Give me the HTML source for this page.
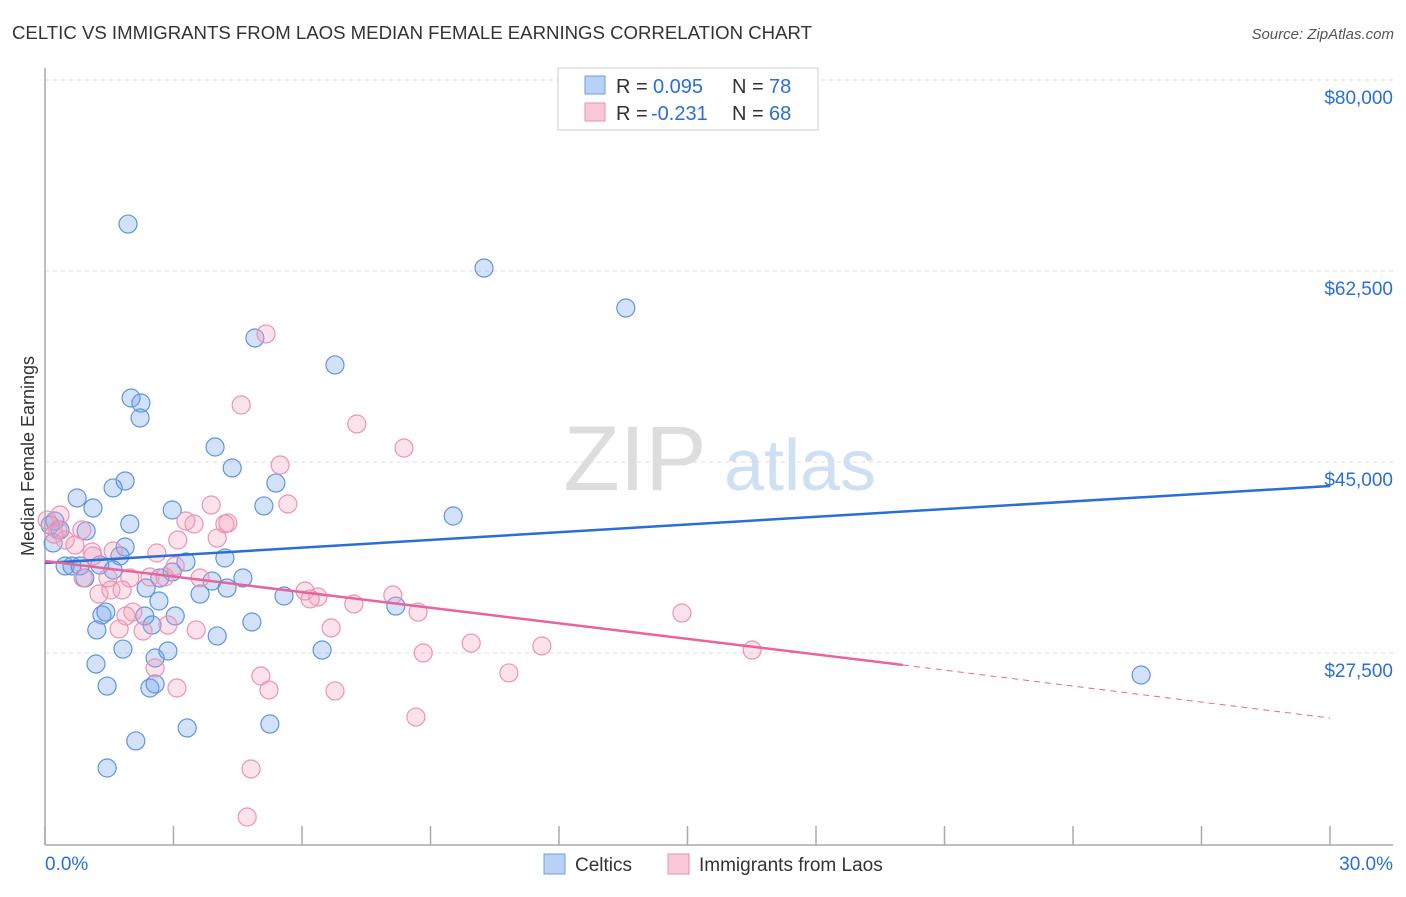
<!DOCTYPE html>
<html><head><meta charset="utf-8"><style>
body{margin:0;background:#fff;font-family:"Liberation Sans",sans-serif;}
svg text{font-family:"Liberation Sans",sans-serif;}
</style></head><body>
<svg id="chart" width="1406" height="892" xmlns="http://www.w3.org/2000/svg">
<text x="12" y="39" font-size="18" fill="#333" textLength="800" lengthAdjust="spacingAndGlyphs">CELTIC VS IMMIGRANTS FROM LAOS MEDIAN FEMALE EARNINGS CORRELATION CHART</text>
<text x="1394" y="39" font-size="15" fill="#555" text-anchor="end" font-style="italic">Source: ZipAtlas.com</text>
<text x="34" y="456" font-size="18" fill="#333" text-anchor="middle" transform="rotate(-90 34 456)">Median Female Earnings</text>
<g><text x="635" y="490" font-size="92" fill="#ddd" font-family="Liberation Serif" text-anchor="middle">ZIP</text><text x="800" y="490" font-size="72" fill="#cfe0f5" text-anchor="middle">atlas</text></g>
<g id="grid"></g><g id="axes"></g><g id="marks"></g><g id="trends"></g>
<g>
<rect x="558" y="68" width="260" height="62" fill="#fff" stroke="#ccc"/>
<rect x="585" y="76" width="20" height="18" fill="#b9d1f5" stroke="#6e9de0"/>
<text x="616" y="93" font-size="20" fill="#333">R =</text>
<text x="653" y="93" font-size="20" fill="#2a6fd6">0.095</text>
<text x="732" y="93" font-size="20" fill="#333">N =</text>
<text x="769" y="93" font-size="20" fill="#2a6fd6">78</text>
<rect x="585" y="103" width="20" height="18" fill="#f9c9d8" stroke="#e88fb0"/>
<text x="616" y="120" font-size="20" fill="#333">R =</text>
<text x="651" y="120" font-size="20" fill="#2a6fd6">-0.231</text>
<text x="732" y="120" font-size="20" fill="#333">N =</text>
<text x="769" y="120" font-size="20" fill="#2a6fd6">68</text>
</g>
<g>
<rect x="544" y="854" width="21" height="20" fill="#b9d1f5" stroke="#6e9de0"/>
<text x="575" y="871" font-size="19" fill="#333">Celtics</text>
<rect x="668" y="854" width="21" height="20" fill="#f9c9d8" stroke="#e88fb0"/>
<text x="699" y="871" font-size="19" fill="#333">Immigrants from Laos</text>
</g>
</svg>
<script>
const blueX=[1.94,10.25,13.56,4.90,6.77,2.01,2.24,2.22,3.97,4.37,1.87,1.59,5.39,0.75,5.11,1.12,2.97,9.53,1.98,0.96,0.23,0.12,0.35,0.19,1.87,1.75,3.29,4.20,0.47,0.63,0.82,1.28,1.59,0.93,4.62,3.90,2.97,2.68,2.36,4.25,3.62,5.58,2.66,8.19,1.33,1.42,2.33,3.04,4.83,2.50,1.21,4.02,1.82,2.87,6.47,2.57,1.19,25.59,1.45,2.45,2.57,5.25,3.32,2.12,1.45];
const blueY=[68.36,64.33,60.67,57.92,55.45,52.42,51.96,50.59,47.93,46.01,44.82,44.18,44.63,43.26,42.53,42.34,42.16,41.61,40.88,40.24,41.15,40.79,40.33,39.14,38.77,37.95,37.40,37.76,37.03,37.03,37.03,37.12,36.66,35.93,35.93,35.65,36.48,35.93,35.01,35.01,34.46,34.28,33.82,33.36,32.54,32.81,32.45,32.45,31.90,31.62,31.17,30.62,29.42,29.24,29.33,28.60,28.05,27.04,26.03,25.85,26.22,22.55,22.19,21.00,18.52];
const pinkX=[5.16,4.58,7.28,8.38,5.49,5.67,3.88,3.29,3.48,4.20,4.27,4.02,3.10,0.35,0.05,0.30,0.47,0.70,1.10,1.59,2.61,3.04,1.98,2.45,2.80,3.62,1.47,0.89,6.07,6.37,6.19,8.12,7.21,8.71,14.87,1.26,1.54,1.80,2.05,1.89,2.87,2.29,1.73,3.53,6.68,9.95,11.60,16.51,8.83,2.57,5.04,3.08,5.23,6.77,10.83,8.66,4.81,4.72,0.86,1.12,0.21];
const pinkY=[58.29,51.78,50.04,47.84,46.28,42.71,42.62,41.15,40.88,40.88,40.97,39.59,39.41,41.70,41.24,40.33,39.41,38.95,38.31,38.40,38.22,37.03,35.93,36.02,36.02,35.93,35.93,35.93,34.74,34.19,34.01,34.37,33.55,32.81,32.72,34.46,34.83,34.83,32.81,32.45,31.62,31.07,31.26,31.17,31.35,29.97,29.70,29.33,29.06,27.68,26.95,25.85,25.67,25.58,27.23,23.19,18.43,14.03,40.33,37.95,39.95];
const blueTrendX=[0,30];
const blueTrendY=[37.30,44.36];
const pinkTrendX=[0,20.03,30];
const pinkTrendY=[37.49,27.96,23.10];
const yTicks=[80,62.5,45,27.5];
const yTickLabels=["$80,000","$62,500","$45,000","$27,500"];
const xTicks=[0,3,6,9,12,15,18,21,24,27,30];
const NS="http://www.w3.org/2000/svg";
function xs(v){return 45+v/30*1285;}
function ys(v){return 97+(80-v)/17.5*191;}
function mk(t,a,p){const e=document.createElementNS(NS,t);for(const k in a)e.setAttribute(k,a[k]);p.appendChild(e);return e;}
const grid=document.getElementById('grid'),axes=document.getElementById('axes'),marks=document.getElementById('marks'),trends=document.getElementById('trends');
yTicks.forEach((t,i)=>{
 const y=ys(t);
 const l=mk('line',{x1:45,x2:1393,y1:y-17,y2:y-17,stroke:'#ddd','stroke-dasharray':'4,4'},grid);
 
 
 const tx=mk('text',{x:1393,y:y+7,'font-size':19,fill:'#2a6fd6','text-anchor':'end'},axes);
 tx.textContent=yTickLabels[i];
 
 
});
let la=mk('line',{x1:45,x2:45,y1:68,y2:845,stroke:'#aaa','stroke-width':1.5},axes);


let lb=mk('line',{x1:45,x2:1393,y1:845,y2:845,stroke:'#aaa','stroke-width':1.5},axes);


xTicks.forEach(t=>{
 const tk=mk('line',{x1:xs(t),x2:xs(t),y1:826,y2:845,stroke:'#aaa','stroke-width':1.5},axes);
 
 
});
let x0=mk('text',{x:45,y:870,'font-size':19,fill:'#2a6fd6'},axes);x0.textContent='0.0%';


let x1=mk('text',{x:1393,y:870,'font-size':19,fill:'#2a6fd6','text-anchor':'end'},axes);x1.textContent='30.0%';


blueX.forEach((v,i)=>{
 const c=mk('circle',{cx:xs(v),cy:ys(blueY[i]),r:9,fill:'rgba(110,160,235,0.3)',stroke:'#5f94e0','stroke-width':1.2},marks);
 
 
});
pinkX.forEach((v,i)=>{
 const c=mk('circle',{cx:xs(v),cy:ys(pinkY[i]),r:9,fill:'rgba(245,160,190,0.3)',stroke:'#ec93b3','stroke-width':1.2},marks);
 
 
});
let bt=mk('line',{x1:xs(blueTrendX[0]),y1:ys(blueTrendY[0]),x2:xs(blueTrendX[1]),y2:ys(blueTrendY[1]),stroke:'#2a6fd6','stroke-width':2.5},trends);


let pt=mk('line',{x1:xs(pinkTrendX[0]),y1:ys(pinkTrendY[0]),x2:xs(pinkTrendX[1]),y2:ys(pinkTrendY[1]),stroke:'#e8649a','stroke-width':2.5},trends);


let pd=mk('line',{x1:xs(pinkTrendX[1]),y1:ys(pinkTrendY[1]),x2:xs(pinkTrendX[2]),y2:ys(pinkTrendY[2]),stroke:'#e8649a','stroke-width':1,'stroke-dasharray':'6,5'},trends);


</script>
</body></html>
